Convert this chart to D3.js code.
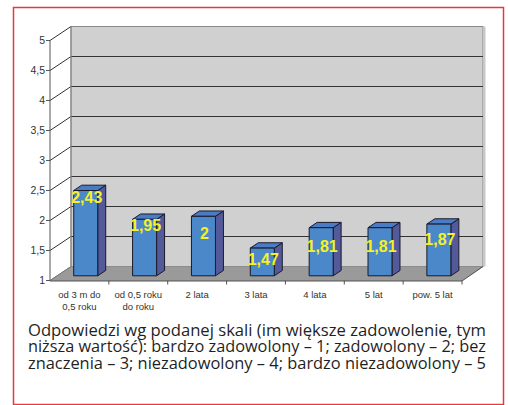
<!DOCTYPE html>
<html><head><meta charset="utf-8">
<script src="https://cdn.jsdelivr.net/npm/d3@7"></script>
<style>body{margin:0;background:#fff}svg{display:block}</style>
</head><body>
<script>
const categories = [["od 3 m do","0,5 roku"],["od 0,5 roku","do roku"],["2 lata"],["3 lata"],["4 lata"],["5 lat"],["pow. 5 lat"]];
const values = [2.43, 1.95, 2, 1.47, 1.81, 1.81, 1.87];
const valueLabels = ["2,43","1,95","2","1,47","1,81","1,81","1,87"];
const yTicks = [1, 1.5, 2, 2.5, 3, 3.5, 4, 4.5, 5];
const yTickLabels = ["1","1,5","2","2,5","3","3,5","4","4,5","5"];
const captionLines = [
  "Odpowiedzi wg podanej skali (im większe zadowolenie, tym",
  "niższa wartość): bardzo zadowolony – 1; zadowolony – 2; bez",
  "znaczenia – 3; niezadowolony – 4; bardzo niezadowolony – 5"
];

const W = 508, H = 405;
const svg = d3.select("body").append("svg").attr("width", W).attr("height", H);

// frame
svg.append("rect").attr("x",13.5).attr("y",7.5).attr("width",490).attr("height",397)
  .attr("fill","#fff").attr("stroke","#e8373d").attr("stroke-width",1.5);

const y = d3.scaleLinear().domain([1,5]).range([280.5,40.5]);
const x = d3.scaleBand().domain(categories.map((d,i)=>i)).range([50,462]);
const DX = 21, DY = -14;
const x0 = 50, x1 = 462;

// back wall
svg.append("rect").attr("x",x0+DX).attr("y",y(5)+DY).attr("width",x1-x0).attr("height",y(1)-y(5))
  .attr("fill","#d0d0d0").attr("stroke","#8a8a8a").attr("stroke-width",1);
svg.append("line").attr("x1",x1+DX+1.5).attr("x2",x1+DX+1.5).attr("y1",y(5)+DY).attr("y2",y(1)+DY)
  .attr("stroke","#c8c8c8").attr("stroke-width",2);

// floor
svg.append("path").attr("d",`M${x0},${y(1)}L${x0+DX},${y(1)+DY}L${x1+DX},${y(1)+DY}L${x1},${y(1)}Z`)
  .attr("fill","#9a9a9a").attr("stroke","#8a8a8a").attr("stroke-width",0.8);

// gridlines on back wall and left wall
yTicks.forEach(v=>{
  if (v>1 && v<5) {
    svg.append("line").attr("x1",x0+DX).attr("x2",x1+DX).attr("y1",y(v)+DY).attr("y2",y(v)+DY)
      .attr("stroke","#333").attr("stroke-width",1);
  }
  svg.append("line").attr("x1",x0).attr("x2",x0+DX).attr("y1",y(v)).attr("y2",y(v)+DY)
    .attr("stroke", v==1 ? "#777" : "#333").attr("stroke-width",1);
});
// back wall left edge
svg.append("line").attr("x1",x0+DX).attr("x2",x0+DX).attr("y1",y(5)+DY).attr("y2",y(1)+DY)
  .attr("stroke","#8a8a8a").attr("stroke-width",1.2);

// y axis
svg.append("line").attr("x1",x0).attr("x2",x0).attr("y1",y(5)).attr("y2",y(1)).attr("stroke","#555").attr("stroke-width",1);
yTicks.forEach((v,i)=>{
  svg.append("line").attr("x1",x0-4).attr("x2",x0).attr("y1",y(v)).attr("y2",y(v)).attr("stroke","#555");
  svg.append("text").attr("x",x0-5).attr("y",y(v)).attr("dy","0.35em").attr("text-anchor","end")
    .attr("font-family","Liberation Sans, Arial, sans-serif").attr("font-size",10.5).attr("fill","#333")
    .text(yTickLabels[i]);
});

// x axis
svg.append("line").attr("x1",x0).attr("x2",x1).attr("y1",y(1)+0.5).attr("y2",y(1)+0.5).attr("stroke","#555");
svg.append("line").attr("x1",x1).attr("x2",x1+DX).attr("y1",y(1)+0.5).attr("y2",y(1)+DY).attr("stroke","#555");
categories.forEach((c,i)=>{
  const bx = x(i);
  svg.append("line").attr("x1",bx+x.bandwidth()).attr("x2",bx+x.bandwidth()).attr("y1",y(1)).attr("y2",y(1)+4).attr("stroke","#555");
  c.forEach((line,j)=>{
    svg.append("text").attr("x",bx+x.bandwidth()/2).attr("y",y(1)+17+j*12.5).attr("text-anchor","middle")
      .attr("font-family","Liberation Sans, Arial, sans-serif").attr("font-size",9.5).attr("fill","#333")
      .text(line);
  });
});

// bars
const barW = 24, f = 0.3, bd = 0.38;
const labelNudge = [6.5, 6, 16.5, 11, 18.5, 19, 15.5];
values.forEach((v,i)=>{
  const fx = x(i) + (x.bandwidth()-barW)/2 + f*DX;
  const fb = y(1) - 0.5 + f*DY;
  const ft = y(v) + f*DY;
  const ddx = bd*DX, ddy = bd*DY;
  const g = svg.append("g").attr("stroke","#1a1a2a").attr("stroke-width",1).attr("stroke-linejoin","round");
  g.append("path").attr("d",`M${fx+barW},${ft}L${fx+barW+ddx},${ft+ddy}L${fx+barW+ddx},${fb+ddy}L${fx+barW},${fb}Z`).attr("fill","#545a99");
  g.append("path").attr("d",`M${fx},${ft}L${fx+ddx},${ft+ddy}L${fx+barW+ddx},${ft+ddy}L${fx+barW},${ft}Z`).attr("fill","#4a7cc6");
  g.append("rect").attr("x",fx).attr("y",ft).attr("width",barW).attr("height",fb-ft).attr("fill","#4a88c9");
  svg.append("text").attr("x",fx+barW/2+1).attr("y",ft+labelNudge[i]).attr("dy","0.36em").attr("text-anchor","middle")
    .attr("font-family","Liberation Sans, Arial, sans-serif").attr("font-weight","bold").attr("font-size",16)
    .attr("fill","#f4f02a").text(valueLabels[i]);
});

// caption
captionLines.forEach((t,i)=>{
  svg.append("text").attr("x",28).attr("y",336+i*16.3)
    .attr("font-family","Open Sans, Noto Sans, sans-serif").attr("font-size",16.5).attr("fill","#1f1f1f")
    .attr("textLength",458).attr("lengthAdjust","spacingAndGlyphs").text(t);
});
</script>
</body></html>
